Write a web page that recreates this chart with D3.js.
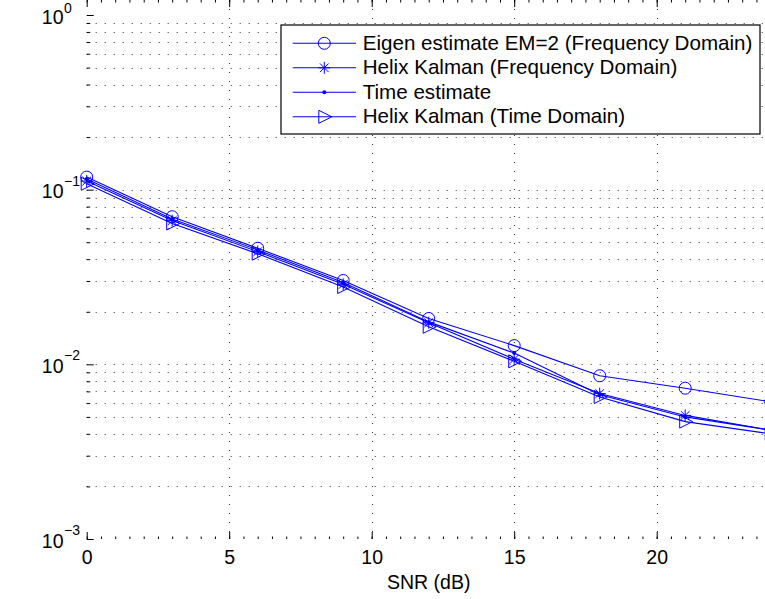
<!DOCTYPE html>
<html>
<head>
<meta charset="utf-8">
<script src="https://cdn.jsdelivr.net/npm/d3@7"></script>
<style>
  body { margin: 0; background: #fff; }
  text { font-family: "Liberation Sans", Arial, Helvetica, sans-serif; fill: #000; }
</style>
</head>
<body>
<svg id="chart" width="765" height="599"></svg>
<script>
// values
var snr = [0, 3, 6, 9, 12, 15, 18, 21, 24];
var eigenFreq = [0.118, 0.070, 0.0462, 0.0302, 0.0183, 0.0128, 0.0086, 0.0073, 0.0061];
var helixFreq = [0.112, 0.0665, 0.0442, 0.0287, 0.0173, 0.0107, 0.0068, 0.0051, 0.0042];
var timeEst   = [0.115, 0.068, 0.0452, 0.0294, 0.0175, 0.0116, 0.0067, 0.0050, 0.0042];
var helixTime = [0.108, 0.064, 0.0430, 0.0277, 0.0164, 0.0104, 0.0065, 0.0047, 0.0040];

var seriesNames = ['Eigen estimate EM=2 (Frequency Domain)', 'Helix Kalman (Frequency Domain)',
                   'Time estimate', 'Helix Kalman (Time Domain)'];
var seriesMarkers = ['circle', 'star', 'dot', 'triangle'];
var xTicks = [0, 5, 10, 15, 20];
var yTicks = [1e-3, 1e-2, 1e-1, 1];
var yTickExp = ['\u22123', '\u22122', '\u22121', '0'];

var svg = d3.select('#chart');
var blue = '#0000ff';

var x = d3.scaleLinear().domain([0, 24]).range([86.7, 770.7]);
var y = d3.scaleLog().domain([1e-3, 1]).range([539, 15]);

var left = x.range()[0], right = x.range()[1], top = y.range()[1], bottom = y.range()[0];

// minor values of the log axis
var yMinor = [];
[-3, -2, -1].forEach(function(k) {
  for (var j = 2; j <= 9; j++) yMinor.push(j * Math.pow(10, k));
});
var xMinor = d3.range(0, 24.1, 0.5);

// dotted grid
var grid = svg.append('g')
    .attr('stroke', '#333')
    .attr('stroke-width', 1)
    .attr('stroke-dasharray', '1,8');
grid.selectAll('.hg')
  .data(yMinor.concat([1e-2, 1e-1]))
  .enter().append('line')
    .attr('x1', left).attr('x2', right)
    .attr('y1', function(d) { return Math.round(y(d)) + 0.5; })
    .attr('y2', function(d) { return Math.round(y(d)) + 0.5; });
grid.selectAll('.vg')
  .data(xTicks.slice(1))
  .enter().append('line')
    .attr('x1', function(d) { return Math.round(x(d)) + 0.5; })
    .attr('x2', function(d) { return Math.round(x(d)) + 0.5; })
    .attr('y1', top).attr('y2', bottom);

// axes (ticks point inward like matlab)
var xAxis = svg.append('g')
    .attr('transform', 'translate(0,' + bottom + ')')
    .call(d3.axisBottom(x).tickValues(xTicks).tickSizeInner(-7).tickSizeOuter(0).tickPadding(11));
xAxis.selectAll('text').attr('font-size', 19.5).style('font-family', null);

svg.append('g')
    .attr('transform', 'translate(0,' + bottom + ')')
    .call(d3.axisBottom(x).tickValues(xMinor).tickSize(-2.5).tickFormat(''));
svg.append('g')
    .attr('transform', 'translate(0,' + top + ')')
    .call(d3.axisTop(x).tickValues(xMinor).tickSize(-2.5).tickFormat(''));

svg.append('g')
    .attr('transform', 'translate(0,' + top + ')')
    .call(d3.axisTop(x).tickValues(xTicks).tickSizeInner(-7).tickSizeOuter(0).tickFormat(''));

var yAxis = svg.append('g')
    .attr('transform', 'translate(' + left + ',0)')
    .call(d3.axisLeft(y).tickValues(yTicks).tickSizeInner(-7).tickSizeOuter(0).tickFormat(''));

svg.append('g')
    .attr('transform', 'translate(' + left + ',0)')
    .call(d3.axisLeft(y).tickValues(yMinor).tickSizeInner(-3.5).tickSizeOuter(0).tickFormat(''));

svg.selectAll('.domain').remove();
svg.selectAll('.tick line').attr('stroke', '#000');

// "10" with superscript exponent, kept inside the page at the top
yAxis.selectAll('.tick').each(function(d, i) {
  var g = d3.select(this);
  var ty = y(d);
  g.append('text')
    .attr('x', 63.5 - left).attr('y', 8)
    .attr('text-anchor', 'end')
    .attr('font-size', 19.5)
    .text('10');
  g.append('text')
    .attr('x', 64 - left).attr('y', Math.max(ty - 4.5, 12.5) - ty)
    .attr('text-anchor', 'start')
    .attr('font-size', 14)
    .text(yTickExp[i]);
});

// frame
svg.append('path')
    .attr('d', 'M' + left + ',' + top + 'H' + right + 'V' + bottom + 'H' + left + 'Z')
    .attr('fill', 'none')
    .attr('stroke', '#000')
    .attr('stroke-width', 1.4);

// axis titles
svg.append('text')
    .attr('x', (left + right) / 2).attr('y', 589)
    .attr('text-anchor', 'middle')
    .attr('font-size', 19.5)
    .text('SNR (dB)');
svg.append('text')
    .attr('transform', 'translate(26,' + ((top + bottom) / 2) + ') rotate(-90)')
    .attr('text-anchor', 'middle')
    .attr('font-size', 19.5)
    .text('BER');

// marker shapes
function marker(g, type, cx, cy) {
  if (type == 'circle') {
    g.append('circle').attr('cx', cx).attr('cy', cy).attr('r', 6)
      .attr('fill', 'none').attr('stroke', blue);
  } else if (type == 'star') {
    var r = 6, d = 4.3;
    g.append('path')
      .attr('d', 'M' + (cx - r) + ',' + cy + 'h' + 2 * r +
                 'M' + cx + ',' + (cy - r) + 'v' + 2 * r +
                 'M' + (cx - d) + ',' + (cy - d) + 'l' + 2 * d + ',' + 2 * d +
                 'M' + (cx - d) + ',' + (cy + d) + 'l' + 2 * d + ',' + (-2 * d))
      .attr('fill', 'none').attr('stroke', blue);
  } else if (type == 'dot') {
    g.append('circle').attr('cx', cx).attr('cy', cy).attr('r', 2).attr('fill', blue);
  } else {
    g.append('path')
      .attr('d', 'M' + (cx - 5.5) + ',' + (cy - 6.5) + 'L' + (cx + 7.5) + ',' + cy +
                 'L' + (cx - 5.5) + ',' + (cy + 6.5) + 'Z')
      .attr('fill', 'none').attr('stroke', blue);
  }
}

var allSeries = [eigenFreq, helixFreq, timeEst, helixTime];
var line = d3.line()
    .x(function(d, i) { return x(snr[i]); })
    .y(function(d) { return y(d); });

allSeries.forEach(function(vals, s) {
  var g = svg.append('g');
  g.append('path')
    .attr('d', line(vals))
    .attr('fill', 'none')
    .attr('stroke', blue)
    .attr('stroke-width', 1.1);
  vals.forEach(function(v, i) {
    marker(g, seriesMarkers[s], x(snr[i]), y(v));
  });
});

// legend
var lg = svg.append('g');
lg.append('rect')
    .attr('x', 281).attr('y', 25).attr('width', 479).attr('height', 109)
    .attr('fill', '#fff').attr('stroke', '#000').attr('stroke-width', 1.2);
seriesNames.forEach(function(name, i) {
  var ly = 43.3 + i * 24.5;
  lg.append('line')
    .attr('x1', 292.7).attr('x2', 356).attr('y1', ly).attr('y2', ly)
    .attr('stroke', blue).attr('stroke-width', 1.1);
  marker(lg, seriesMarkers[i], 324.3, ly);
  lg.append('text')
    .attr('x', 362.7).attr('y', ly + 6.5)
    .attr('font-size', 20.6)
    .text(name);
});
</script>
</body>
</html>
